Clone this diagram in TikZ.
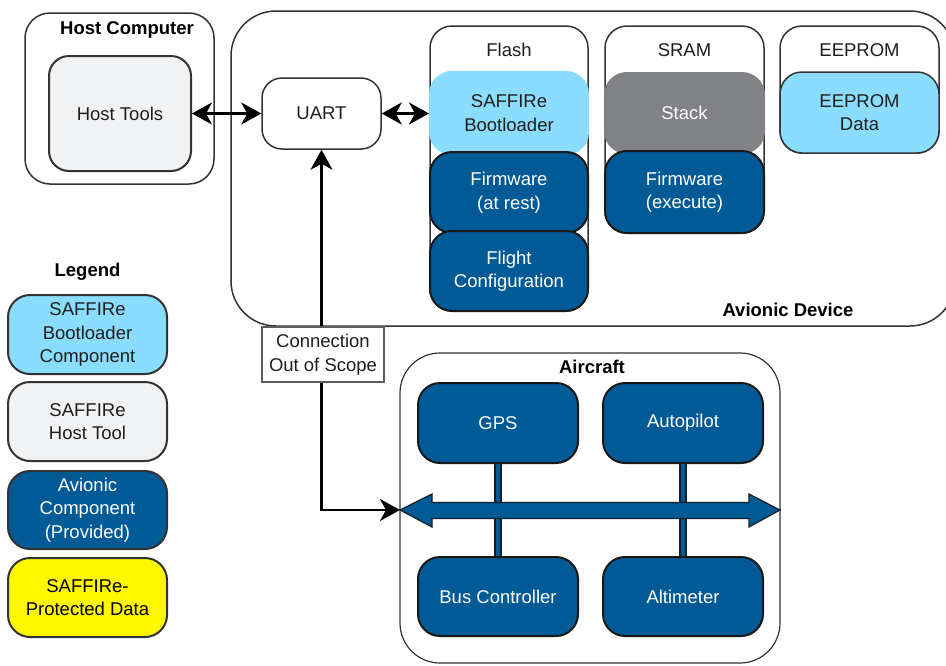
\documentclass[tikz,border=0pt]{standalone}
\usepackage{fontspec}
\setmainfont{Liberation Sans}
\usetikzlibrary{arrows.meta}

\definecolor{lightblue}{HTML}{8ADDFF}
\definecolor{darkblue}{HTML}{005A96}
\definecolor{stackgray}{HTML}{808285}
\definecolor{toolgray}{HTML}{F1F2F4}
\definecolor{dataYellow}{HTML}{FFF700}
\definecolor{ink}{HTML}{1E1E1E}
\definecolor{edge}{HTML}{333333}
\definecolor{busedge}{HTML}{141E28}

\tikzset{
  group/.style={draw=edge, line width=1.5pt, fill=white},
  box/.style={rectangle, rounded corners=22pt, inner sep=0pt, align=center,
    text=ink, line width=2pt},
  darkbox/.style={box, fill=darkblue, draw=black!90, text=white},
  bootbox/.style={box, fill=lightblue, draw=lightblue},
  titlelbl/.style={font=\bfseries\fontsize{18.5}{23.5}\selectfont, text=black},
  plainlbl/.style={text=ink},
  conn/.style={line width=2.6pt, black,
    arrows={Stealth[length=20pt, width=22pt, inset=6pt]-Stealth[length=20pt, width=22pt, inset=6pt]}},
  busline/.style={draw=busedge, line width=1.6pt, double=darkblue, double distance=4.5pt},
  busarrow/.style={fill=darkblue, draw=busedge, line width=1.2pt, line join=miter},
}

\begin{document}
\begin{tikzpicture}[x=1pt, y=-1pt, font=\fontsize{18.5}{23.5}\selectfont]
  \fill[white] (0,0) rectangle (946,665);
  \useasboundingbox (0,0) rectangle (946,665);

  % outer groups
  \draw[group, rounded corners=25pt] (25,13) rectangle (214,184);
  \node[titlelbl] (hcl) at (127,29.5) {Host Computer};
  \draw[group, rounded corners=45pt] (231,11) rectangle (955,326);
  \node[titlelbl] (adl) at (788,310) {Avionic Device};

  % host side
  \node[box, fill=toolgray, draw=edge, minimum width=142pt, minimum height=115pt,
        rounded corners=20pt] (tools) at (120,113.5) {Host Tools};
  \node[box, fill=white, draw=edge, line width=1.5pt, minimum width=119pt,
        minimum height=71pt, rounded corners=20pt] (uart) at (321.5,113.5) {UART};

  % memory groups
  \draw[group, rounded corners=22pt] (430,26) rectangle (588,311);
  \node[plainlbl] (flashl) at (509,50) {Flash};
  \draw[group, rounded corners=22pt] (605,26) rectangle (764,233);
  \node[plainlbl] (sraml) at (684.5,50) {SRAM};
  \draw[group, rounded corners=22pt] (780,26) rectangle (939,153);
  \node[plainlbl] (eeproml) at (859.5,50) {EEPROM};

  \node[bootbox, minimum width=158pt, minimum height=82pt] (boot) at (509,113)
    {SAFFIRe\\Bootloader};
  \node[darkbox, minimum width=158pt, minimum height=81pt] (fwrest) at (509,192.5)
    {Firmware\\(at rest)};
  \node[darkbox, minimum width=158pt, minimum height=80pt] (flight) at (509,271)
    {Flight\\Configuration};

  \node[box, fill=stackgray, draw=stackgray, text=white, minimum width=159pt,
        minimum height=80pt] (stack) at (684.5,113) {Stack};
  \node[darkbox, minimum width=159pt, minimum height=82pt] (fwexec) at (684.5,192)
    {Firmware\\(execute)};

  \node[box, fill=lightblue, draw=edge, line width=1.5pt, minimum width=159pt,
        minimum height=81pt] (eedata) at (859.5,112.5) {EEPROM\\Data};

  % legend
  \node[titlelbl] (legl) at (87.5,271.5) {Legend};
  \node[box, fill=lightblue, draw=edge, minimum width=159pt, minimum height=79pt]
    (leg1) at (87.5,334.5) {SAFFIRe\\Bootloader\\Component};
  \node[box, fill=toolgray, draw=edge, minimum width=159pt, minimum height=79pt]
    (leg2) at (87.5,421.5) {SAFFIRe\\Host Tool};
  \node[darkbox, draw=edge, minimum width=159pt, minimum height=78pt]
    (leg3) at (87.5,510) {Avionic\\Component\\(Provided)};
  \node[box, fill=dataYellow, draw=edge, text=black, minimum width=159pt,
        minimum height=79pt] (leg4) at (87.5,597.5) {SAFFIRe-\\Protected Data};

  % aircraft
  \draw[group, line width=1.2pt, rounded corners=40pt] (400,353) rectangle (780,663);
  \node[titlelbl] (acl) at (592,367) {Aircraft};
  \node[darkbox, minimum width=160pt, minimum height=80pt] (gps) at (498,423) {GPS};
  \node[darkbox, minimum width=160pt, minimum height=80pt] (auto) at (683,423) {Autopilot};
  \node[darkbox, minimum width=160pt, minimum height=79pt] (busctl) at (498,596.5)
    {Bus Controller};
  \node[darkbox, minimum width=160pt, minimum height=79pt] (alti) at (683,596.5)
    {Altimeter};

  \draw[busline] (gps.south) -- (busctl.north);
  \draw[busline] (auto.south) -- (alti.north);

  \coordinate (busL) at (400,510);
  \coordinate (busR) at (780,510);
  \draw[busarrow] (busL) -- (432,494) -- (432,502.5) -- (749,502.5) -- (749,494)
    -- (busR) -- (749,527) -- (749,518.5) -- (432,518.5) -- (432,527) -- cycle;

  % connections
  \draw[conn] (tools.east) -- (uart.west);
  \draw[conn] (uart.east) -- (uart.east -| boot.west);
  \draw[conn] (uart.south) |- (busL);

  \node[draw=edge!80, line width=1.2pt, fill=white, align=center, text=ink,
        inner sep=0pt, minimum width=122pt, minimum height=55pt] (oos) at (323,354.5)
    {Connection\\Out of Scope};
\end{tikzpicture}
\end{document}
